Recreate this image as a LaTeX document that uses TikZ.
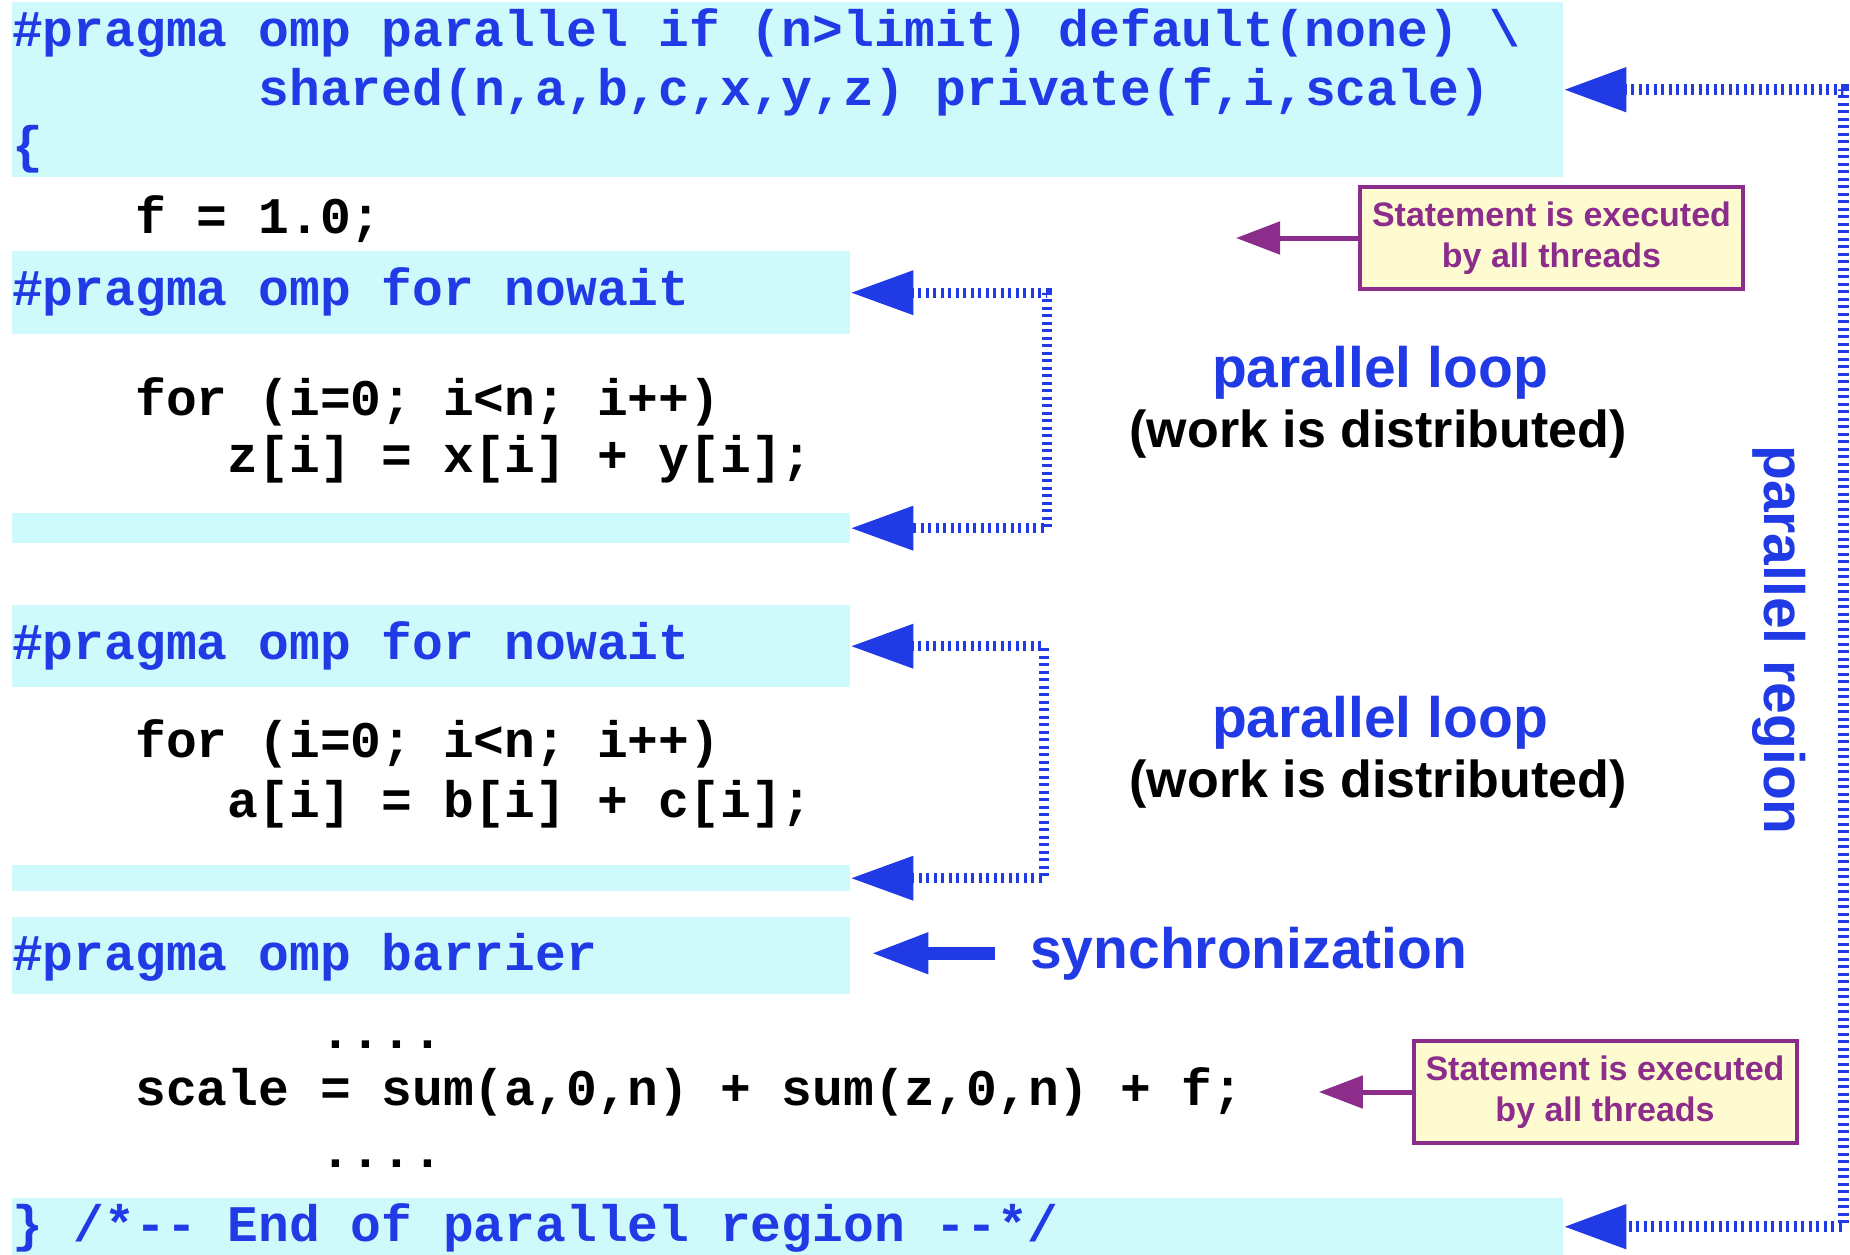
\documentclass[tikz,border=0pt]{standalone}
\usepackage{fontspec}
\setmainfont{Liberation Sans}
\newfontfamily\codefont{Liberation Mono}
\usetikzlibrary{arrows.meta}

\definecolor{ompblue}{RGB}{32,58,230}
\definecolor{bandcyan}{RGB}{206,250,252}
\definecolor{notepurple}{RGB}{140,45,140}
\definecolor{noteyellow}{RGB}{255,251,208}

\begin{document}
\begin{tikzpicture}[x=1pt, y=-1pt,
	band/.style={fill=bandcyan, inner sep=0, anchor=north west},
	code/.style={font=\codefont\bfseries\fontsize{51.3}{60}\selectfont, anchor=base west, inner sep=0},
	pragma/.style={code, text=ompblue},
	biglabel/.style={text=ompblue, font=\bfseries\fontsize{57}{64}\selectfont, anchor=base, inner sep=0},
	worktext/.style={font=\bfseries\fontsize{52}{60}\selectfont, anchor=base, inner sep=0},
	note/.style={draw=notepurple, fill=noteyellow, line width=4pt, text=notepurple, font=\bfseries\fontsize{34}{41}\selectfont, align=center, minimum width=383pt, minimum height=102pt, inner sep=0},
	brk/.style={ompblue, line width=10pt, dash pattern=on 3pt off 4.5pt, {Triangle[length=63pt,width=42pt]}-{Triangle[length=63pt,width=42pt]}},
	notearrow/.style={notepurple, line width=5pt, -{Triangle[length=44pt,width=32pt]}}]

		\fill[white] (0,0) rectangle (1850,1255);
		\useasboundingbox (0,0) rectangle (1850,1255);

		% shaded code bands
		\node (bandA) at (12,2) [band, minimum width=1551pt, minimum height=175pt] {};
		\node (bandB) at (12,251) [band, minimum width=838pt, minimum height=83pt] {};
		\node (bandC) at (12,513) [band, minimum width=838pt, minimum height=30pt] {};
		\node (bandD) at (12,605) [band, minimum width=838pt, minimum height=82pt] {};
		\node (bandE) at (12,865) [band, minimum width=838pt, minimum height=26pt] {};
		\node (bandF) at (12,917) [band, minimum width=838pt, minimum height=77pt] {};
		\node (bandG) at (12,1198) [band, minimum width=1551pt, minimum height=57pt] {};

		% code
		\node (par1) at (12,47) [pragma] {\#pragma omp parallel if (n>limit) default(none) \textbackslash};
		\node (par2) at (258.4,106) [pragma] {shared(n,a,b,c,x,y,z) private(f,i,scale)};
		\node (open) at (12,162) [pragma] {\{};
		\node (fone) at (135.2,233) [code] {f = 1.0;};

		\node (forA) at (12,305) [pragma] {\#pragma omp for nowait};
		\node (loopA1) at (135.2,415) [code] {for (i=0; i<n; i++)};
		\node (loopA2) at (227.6,472) [code] {z[i] = x[i] + y[i];};

		\node (forB) at (12,659) [pragma] {\#pragma omp for nowait};
		\node (loopB1) at (135.2,757) [code] {for (i=0; i<n; i++)};
		\node (loopB2) at (227.6,817) [code] {a[i] = b[i] + c[i];};

		\node (barrier) at (12,970) [pragma] {\#pragma omp barrier};
		\node (dots1) at (320,1048) [code] {....};
		\node (scale) at (135.2,1105) [code] {scale = sum(a,0,n) + sum(z,0,n) + f;};
		\node (dots2) at (320,1167) [code] {....};
		\node (close) at (12,1241) [pragma] {\} /*-{}- End of parallel region -{}-*/};

		% brackets
		\coordinate (loopAx) at (1047,0);
		\coordinate (loopBx) at (1044,0);
		\coordinate (regionx) at (1843,0);

		\draw[brk] (bandB.east) -- (bandB.east -| loopAx) -- (bandC.east -| loopAx) -- (bandC.east);
		\draw[brk] (bandD.east) -- (bandD.east -| loopBx) -- (bandE.east -| loopBx) -- (bandE.east);
		\draw[brk, line width=11pt] (bandA.east) -- (bandA.east -| regionx) -- (bandG.east -| regionx) -- (bandG.east);

		\node (loopAtitle) at (1380,387) [biglabel] {parallel loop};
		\node (loopAwork) at (1378,447) [worktext] {(work is distributed)};
		\node (loopBtitle) at (1380,737) [biglabel] {parallel loop};
		\node (loopBwork) at (1378,797) [worktext] {(work is distributed)};
		\node (region) at (1764,640) [biglabel, rotate=-90] {parallel region};

		% barrier
		\node (sync) at (1030,968) [biglabel, anchor=base west] {synchronization};
		\draw[ompblue, line width=13pt, -{Triangle[length=58pt,width=38pt]}] ([xshift=-35pt]sync.west) -- ([xshift=20pt]bandF.east |- sync.west);

		% notes
		\node (noteA) at (1551.5,238) [note] {Statement is executed\\by all threads};
		\coordinate (noteAtip) at (1236,238);
		\draw[notearrow] (noteA.west) -- (noteAtip);

		\node (noteB) at (1605,1092) [note] {Statement is executed\\by all threads};
		\draw[notearrow, shorten >=75pt] (noteB.west) -- (noteB.west -| scale.east);

		\end{tikzpicture}
\end{document}
